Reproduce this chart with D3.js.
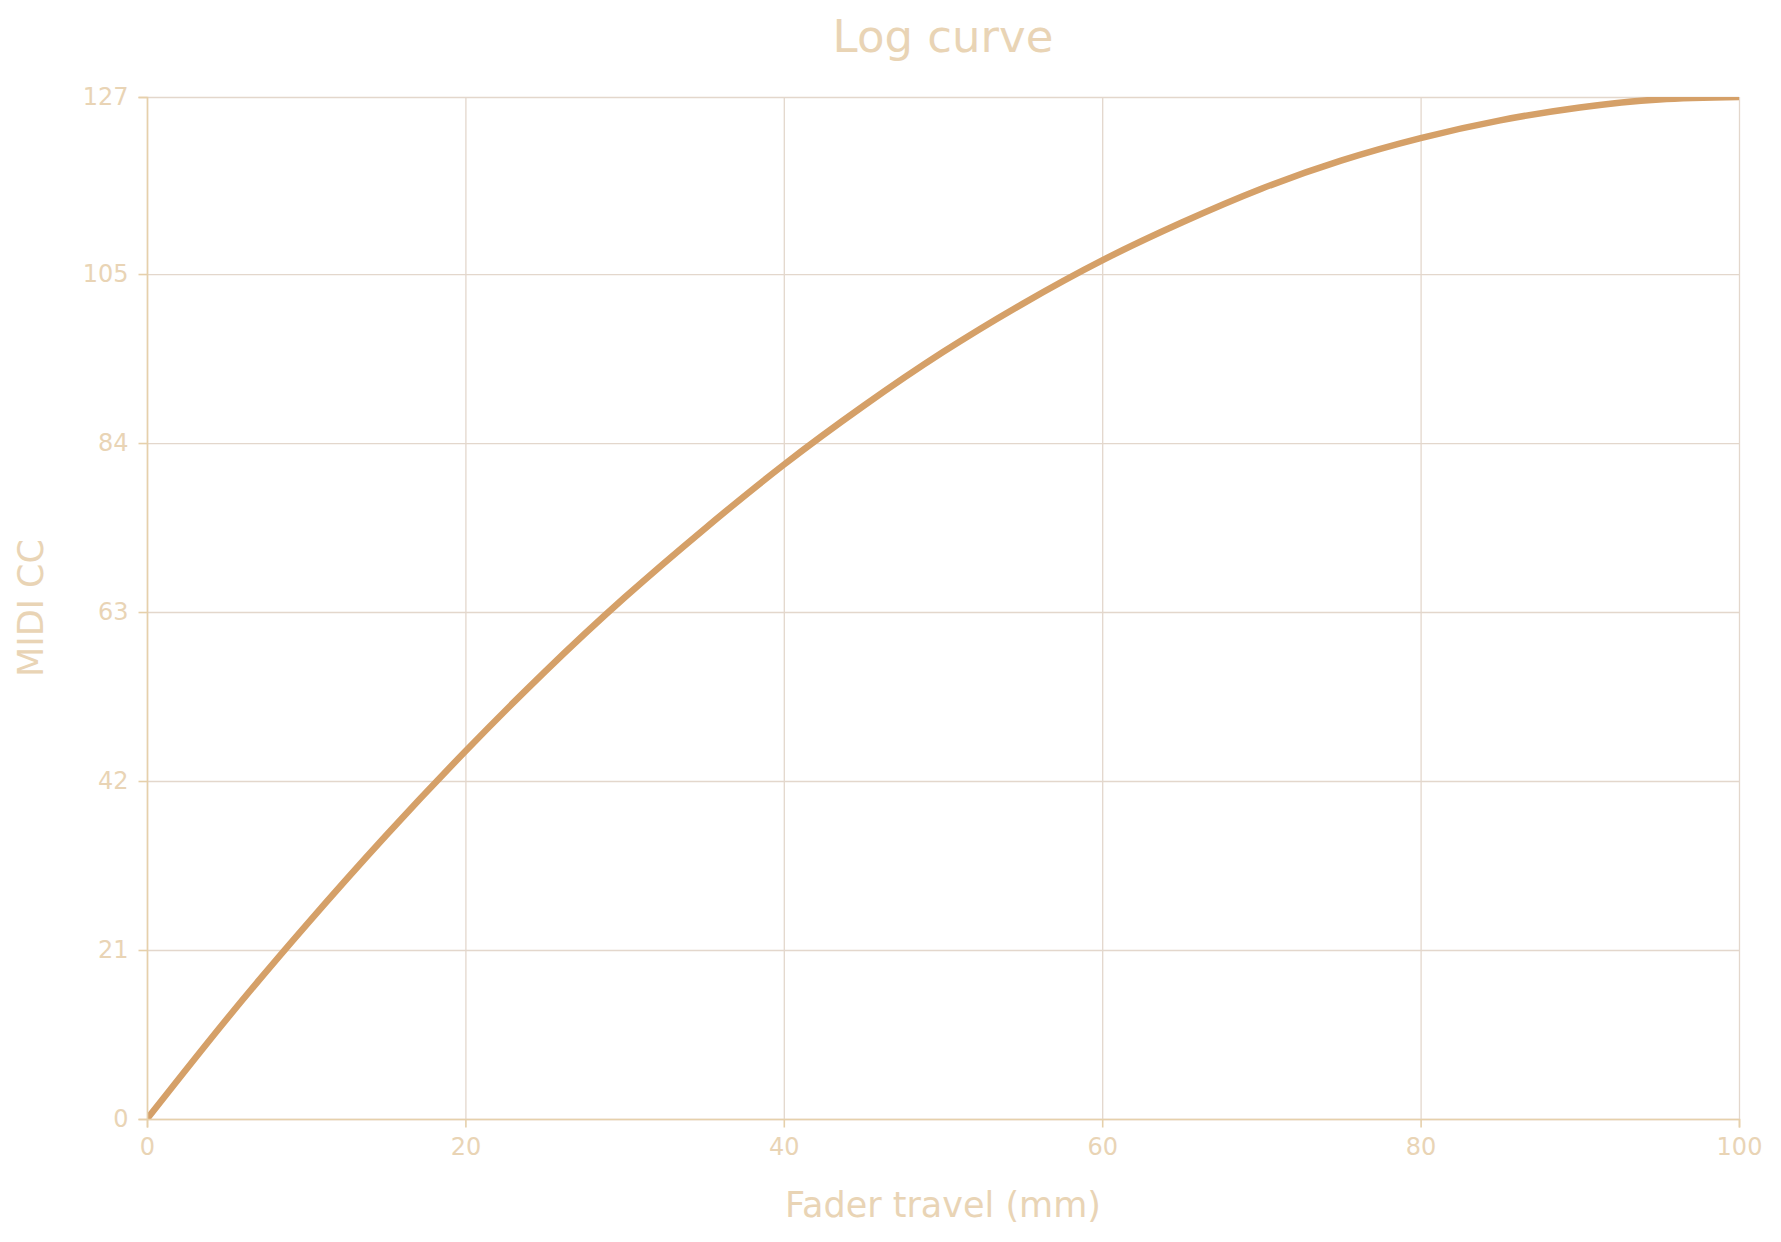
<!DOCTYPE html>
<html>
<head>
<meta charset="utf-8">
<script src="https://cdn.jsdelivr.net/npm/d3@7"></script>
<style>
  body { margin: 0; background: #fff; }
  svg { display: block; font-family: 'DejaVu Sans', sans-serif; }
  .axis path, .axis line { stroke: #e6d0ab; stroke-width: 1.6px; }
  .axis text { fill: #e9d4b5; font-size: 24px; font-family: 'DejaVu Sans', sans-serif; }
  .grid line { stroke: #e3d7cc; stroke-width: 1.3px; }
  .grid path { display: none; }
</style>
</head>
<body>
<div id="chart"></div>
<script>
// Fader travel (mm) and MIDI CC value
let travel = [0, 5, 10, 15, 20, 25, 30, 35, 40, 45, 50, 55, 60, 65, 70, 75, 80, 85, 90, 95, 100];
let midiCC = [0, 12.4, 24.1, 35.2, 45.7, 55.6, 64.8, 73.3, 81.3, 88.6, 95.3, 101.3, 106.7, 111.4, 115.6, 119.1, 121.9, 124.1, 125.7, 126.7, 127];

let xTicks = [0, 20, 40, 60, 80, 100];
let yTicks = [0, 21, 42, 63, 84, 105, 127];

let margin = { left: 147, right: 42, top: 97, bottom: 123 };
let W = 1781, H = 1242;
let width = W - margin.left - margin.right;
let height = H - margin.top - margin.bottom;

let svg = d3.select('#chart')
  .append('svg')
    .attr('width', W)
    .attr('height', H);

let g = svg.append('g')
    .attr('transform', 'translate(' + margin.left + ',' + margin.top + ')');

// Scales
let x = d3.scaleLinear().domain([0, 100]).range([0, width]);
let y = d3.scaleLinear().domain([0, 127]).range([height, 0]);

// Grid
g.append('g')
    .attr('class', 'grid')
    .attr('transform', 'translate(0,' + height + ')')
    .call(d3.axisBottom(x).tickValues(xTicks).tickSize(-height).tickFormat(''));
g.append('g')
    .attr('class', 'grid')
    .call(d3.axisLeft(y).tickValues(yTicks).tickSize(-width).tickFormat(''));

// Clip to plot area
svg.append('defs').append('clipPath')
    .attr('id', 'plot-clip')
  .append('rect')
    .attr('width', width)
    .attr('height', height);

let points = travel.map(function (t, i) { return { t: t, v: midiCC[i] }; });

let line = d3.line()
    .x(function (d) { return x(d.t); })
    .y(function (d) { return y(d.v); })
    .curve(d3.curveNatural);

g.append('path')
    .datum(points)
    .attr('clip-path', 'url(#plot-clip)')
    .attr('fill', 'none')
    .attr('stroke', '#d5a068')
    .attr('stroke-width', 6.5)
    .attr('d', line);

// Axes
let xAxis = g.append('g')
    .attr('class', 'x axis')
    .attr('transform', 'translate(0,' + height + ')')
    .call(d3.axisBottom(x).tickValues(xTicks).tickSizeOuter(0).tickSize(8.5).tickPadding(10.5));

let yAxis = g.append('g')
    .attr('class', 'y axis')
    .call(d3.axisLeft(y).tickValues(yTicks).tickSizeOuter(0).tickSize(8.5).tickPadding(10));

// Title
svg.append('text')
    .attr('x', margin.left + width / 2)
    .attr('y', 52)
    .attr('text-anchor', 'middle')
    .attr('font-size', '45px')
    .attr('fill', '#e9d4b5')
    .text('Log curve');

// X label
svg.append('text')
    .attr('x', margin.left + width / 2)
    .attr('y', 1217)
    .attr('text-anchor', 'middle')
    .attr('font-size', '35px')
    .attr('fill', '#e9d4b5')
    .text('Fader travel (mm)');

// Y label
svg.append('text')
    .attr('transform', 'translate(43,' + (margin.top + height / 2) + ') rotate(-90)')
    .attr('text-anchor', 'middle')
    .attr('font-size', '35px')
    .attr('fill', '#e9d4b5')
    .text('MIDI CC');
</script>
</body>
</html>
